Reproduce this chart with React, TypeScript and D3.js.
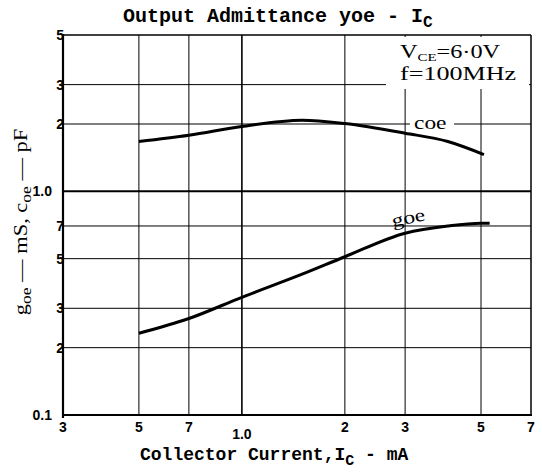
import React from "react";
import * as d3 from "d3";

// axis ticks
const xTicks = [0.3, 0.5, 0.7, 1, 2, 3, 5, 7];
const xLabels = ["3", "5", "7", "1.0", "2", "3", "5", "7"];
const yTicks = [0.1, 0.2, 0.3, 0.5, 0.7, 1, 2, 3, 5];
const yLabels = ["0.1", "2", "3", "5", "7", "1.0", "2", "3", "5"];

// curves
const coeIc = [0.5, 0.7, 1.0, 1.5, 2, 3, 4, 5.1];
const coeVal = [1.67, 1.78, 1.95, 2.08, 2.01, 1.82, 1.67, 1.46];
const goeIc = [0.5, 0.7, 1.0, 1.5, 2, 3, 4, 5, 5.3];
const goeVal = [0.232, 0.27, 0.336, 0.426, 0.51, 0.65, 0.7, 0.72, 0.72];

const W = 542;
const H = 472;

export default function App() {
  const x = d3.scaleLog().domain([0.3, 7]).range([63, 531]);
  const y = d3.scaleLog().domain([0.1, 5]).range([415, 35]);

  const line = d3
    .line<[number, number]>()
    .x((d) => x(d[0]))
    .y((d) => y(d[1]))
    .curve(d3.curveMonotoneX);

  const coe = coeIc.map((c, i) => [c, coeVal[i]] as [number, number]);
  const goe = goeIc.map((c, i) => [c, goeVal[i]] as [number, number]);

  const [x0, x1] = x.range();
  const [y0, y1] = y.range();
  const tickFont = "Liberation Sans, Arial, sans-serif";
  const serif = "Liberation Serif, Times New Roman, serif";
  const mono = "Liberation Mono, Courier New, monospace";

  return (
    <svg
      width={W}
      height={H}
      style={{ position: "absolute", left: 0, top: 0, background: "#fff" }}
    >
      {/* grid */}
      {xTicks.slice(1, -1).map((t) => (
        <line
          key={"gx" + t}
          x1={x(t)}
          x2={x(t)}
          y1={y1}
          y2={y0}
          stroke="#000"
          strokeWidth={t === 1 ? 1.6 : 1}
        />
      ))}
      {yTicks.slice(1, -1).map((t) => (
        <line
          key={"gy" + t}
          x1={x0}
          x2={x1}
          y1={y(t)}
          y2={y(t)}
          stroke="#000"
          strokeWidth={t === 1 ? 2 : 1}
        />
      ))}

      {/* frame */}
      <line x1={x0} x2={x1} y1={y1} y2={y1} stroke="#000" strokeWidth={1.5} />
      <line x1={x1} x2={x1} y1={y1} y2={y0} stroke="#000" strokeWidth={1.5} />
      <line x1={x0} x2={x1 + 1} y1={y0} y2={y0} stroke="#000" strokeWidth={2} />
      <line x1={x0} x2={x0} y1={y1 - 1} y2={y0 + 3} stroke="#000" strokeWidth={2.2} />

      {/* condition box */}
      <rect x={386} y={37} width={143} height={52} fill="#fff" />
      <g transform="translate(400 58) scale(1.35 1)">
        <text fontFamily={serif} fontSize={18}>
          V<tspan fontSize={11} dy={3}>CE</tspan>
          <tspan dy={-3}>=6·0V</tspan>
        </text>
      </g>
      <g transform="translate(400 80) scale(1.45 1)">
        <text fontFamily={serif} fontSize={18}>
          f=100MHz
        </text>
      </g>

      {/* curves */}
      <path d={line(coe) || ""} fill="none" stroke="#000" strokeWidth={3} />
      <path d={line(goe) || ""} fill="none" stroke="#000" strokeWidth={3} />

      {/* curve labels */}
      <rect x={410} y={115} width={44} height={16} fill="#fff" />
      <g transform="translate(414 129) scale(1.3 1)">
        <text fontFamily={serif} fontSize={18}>
          coe
        </text>
      </g>
      <g transform="translate(393 227) rotate(-12) scale(1.3 1)">
        <text fontFamily={serif} fontSize={18}>
          goe
        </text>
      </g>

      {/* tick labels */}
      {xTicks.map((t, i) => (
        <text
          key={"lx" + t}
          x={x(t)}
          y={xLabels[i] === "1.0" ? 439 : 432}
          textAnchor="middle"
          fontFamily={tickFont}
          fontWeight="bold"
          fontSize={14}
        >
          {xLabels[i]}
        </text>
      ))}
      {yTicks.map((t, i) => (
        <text
          key={"ly" + t}
          x={yLabels[i].length > 1 ? 52 : 64}
          y={y(t) + 5}
          textAnchor="end"
          fontFamily={tickFont}
          fontWeight="bold"
          fontSize={14}
        >
          {yLabels[i]}
        </text>
      ))}

      {/* titles */}
      <text x={123} y={22} fontFamily={mono} fontWeight="bold" fontSize={20}>
        Output Admittance yoe - I
        <tspan fontSize={16} dy={5}>C</tspan>
      </text>
      <text x={140} y={460} fontFamily={mono} fontWeight="bold" fontSize={18}>
        Collector Current,I
        <tspan fontSize={15} dy={5}>C</tspan>
        <tspan dy={-5}> - mA</tspan>
      </text>
      <g transform="translate(27 222) rotate(-90) scale(1.25 1)">
        <text textAnchor="middle" fontFamily={serif} fontSize={18}>
          g<tspan fontSize={14} dy={4}>oe</tspan>
          <tspan dy={-4}> — mS, c</tspan>
          <tspan fontSize={14} dy={4}>oe</tspan>
          <tspan dy={-4}> — pF</tspan>
        </text>
      </g>
    </svg>
  );
}
